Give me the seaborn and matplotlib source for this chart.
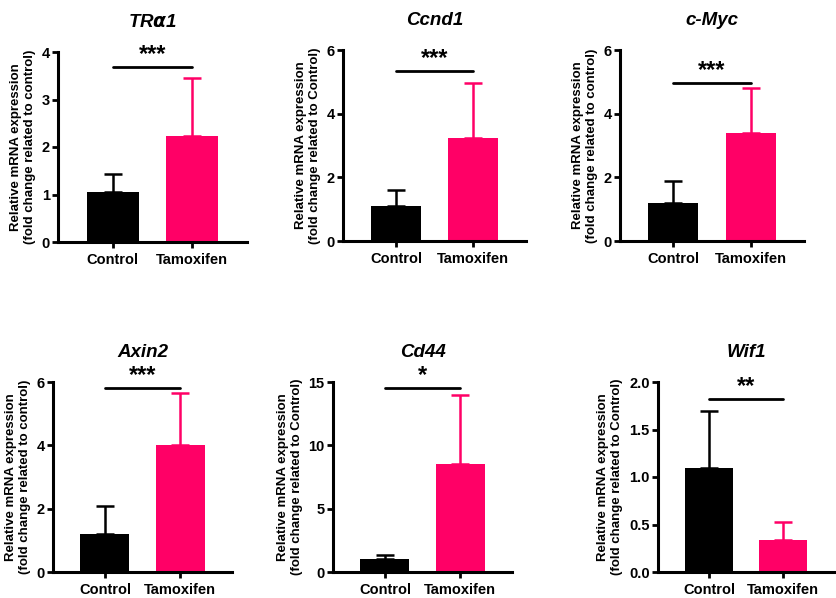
import matplotlib
matplotlib.use('Agg')
import matplotlib.pyplot as plt
import numpy as np
import pandas as pd
import seaborn as sns

sns.set_style('ticks')
plt.rcParams['font.family'] = ['Liberation Sans', 'DejaVu Sans']
plt.rcParams['font.weight'] = 'bold'
for key in ['text.color', 'axes.labelcolor', 'xtick.color', 'ytick.color',
            'axes.edgecolor']:
    plt.rcParams[key] = 'black'

# data
genes = ['TR$\\alpha$1', 'Ccnd1', 'c-Myc', 'Axin2', 'Cd44', 'Wif1']
groups = ['Control', 'Tamoxifen']
control_mean = [1.05, 1.10, 1.18, 1.20, 1.00, 1.10]
control_sd = [0.38, 0.50, 0.72, 0.90, 0.35, 0.60]
tamoxifen_mean = [2.23, 3.25, 3.40, 4.02, 8.50, 0.34]
tamoxifen_sd = [1.22, 1.70, 1.40, 1.63, 5.45, 0.19]
stars = ['***', '***', '***', '***', '*', '**']
star_y = [3.68, 5.35, 4.97, 5.82, 14.55, 1.82]
ymax = [4, 6, 6, 6, 15, 2.0]
yticks = [[0, 1, 2, 3, 4], [0, 2, 4, 6], [0, 2, 4, 6], [0, 2, 4, 6],
          [0, 5, 10, 15], [0.0, 0.5, 1.0, 1.5, 2.0]]
ylabel_ref = ['control', 'Control', 'control', 'control', 'Control', 'Control']

colors = ['#000000', '#FF0066']

# axes boxes in pixels: left, right, top, bottom
boxes = [(58, 247, 52, 242), (343, 526, 50, 241), (620, 804, 50, 241),
         (53, 232, 382, 572), (333, 512, 382, 572), (658, 834, 382, 572)]

W, H = 836, 598
fig = plt.figure(figsize=(W / 100, H / 100), dpi=100)

for i, gene in enumerate(genes):
    l, r, t, b = boxes[i]
    ax = fig.add_axes([l / W, 1 - b / H, (r - l) / W, (b - t) / H])
    df = pd.DataFrame({'group': groups,
                       'value': [control_mean[i], tamoxifen_mean[i]]})
    sns.barplot(data=df, x='group', y='value', hue='group', palette=colors,
                width=0.65, ax=ax, legend=False, errorbar=None,
                saturation=1, linewidth=0)
    for j, (m, s) in enumerate([(control_mean[i], control_sd[i]),
                                (tamoxifen_mean[i], tamoxifen_sd[i])]):
        ax.errorbar(j, m, yerr=[[0], [s]], fmt='none', ecolor=colors[j],
                    elinewidth=1.8, capsize=6.5, capthick=1.8, zorder=1)
    # significance line
    ax.plot([0, 1], [star_y[i], star_y[i]], color='black', lw=2,
            clip_on=False)
    ax.text(0.5, star_y[i] + ymax[i] * 0.005, stars[i], ha='center',
            va='bottom', fontsize=17, fontweight='bold', clip_on=False)
    ax.set_xlim(-0.69, 1.69)
    ax.set_ylim(0, ymax[i])
    ax.set_yticks(yticks[i])
    if i == 5:
        ax.set_yticklabels(['0.0', '0.5', '1.0', '1.5', '2.0'])
    ax.set_title(gene, fontsize=13.5, fontweight='bold', style='italic',
                 pad=18)
    ax.set_xlabel('')
    ax.set_ylabel('Relative mRNA expression\n(fold change related to '
                  + ylabel_ref[i] + ')', fontsize=9.5, fontweight='bold',
                  linespacing=1.25, labelpad=4)
    ax.tick_params(axis='both', labelsize=10.5, width=2, length=4.5,
                   direction='out')
    ax.tick_params(axis='y', pad=1.5)
    for lab in ax.get_xticklabels() + ax.get_yticklabels():
        lab.set_fontweight('bold')
    sns.despine(ax=ax)
    for side in ['left', 'bottom']:
        ax.spines[side].set_linewidth(2.2)

fig.savefig('out.png', dpi=100)
